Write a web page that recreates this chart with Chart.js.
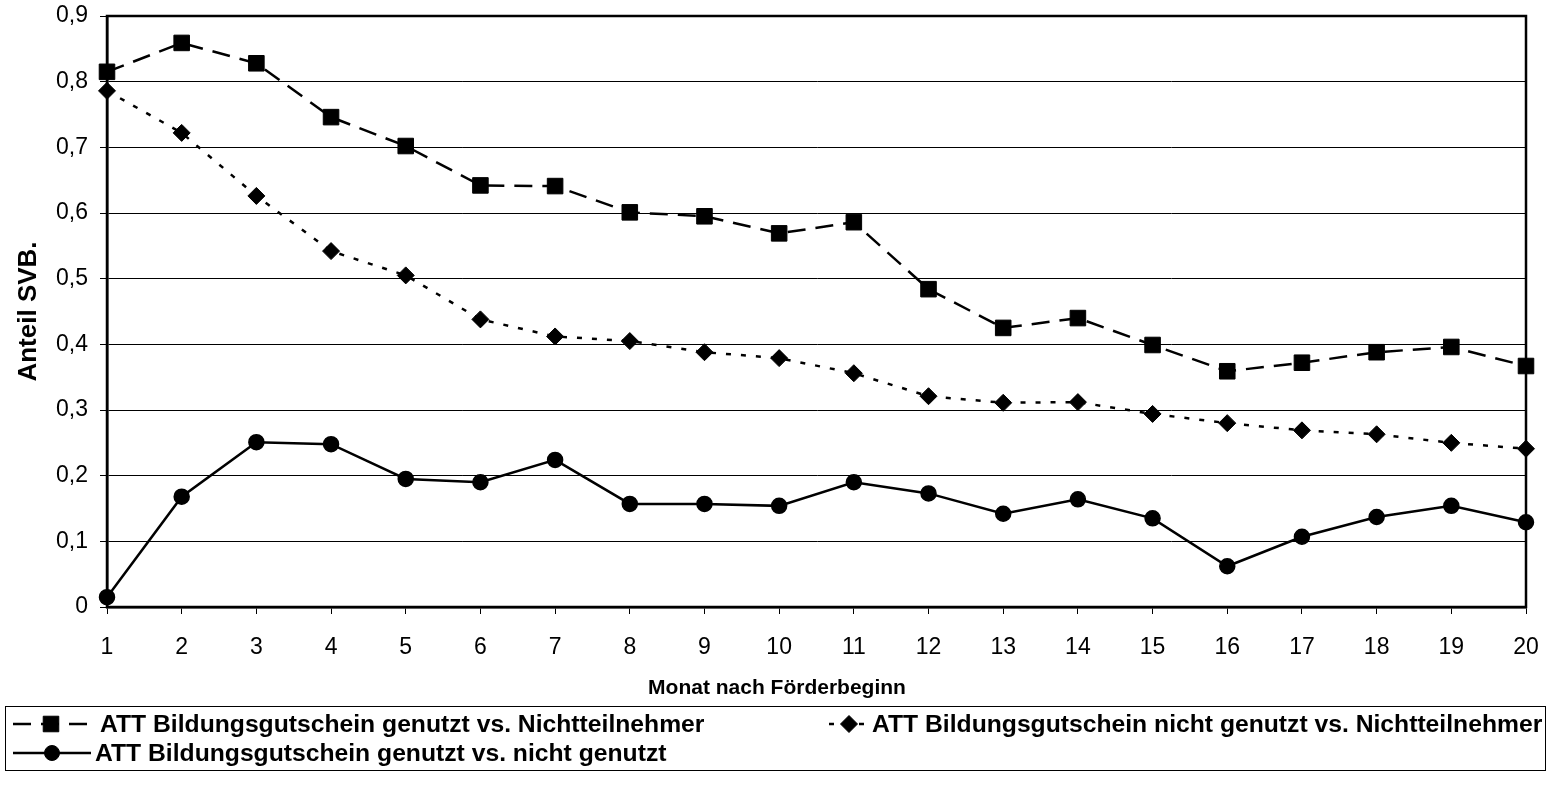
<!DOCTYPE html>
<html>
<head>
<meta charset="utf-8">
<script src="https://cdn.jsdelivr.net/npm/chart.js@4.4.1/dist/chart.umd.min.js"></script>
<style>
  html, body { margin: 0; padding: 0; background: #fff; }
  #contenedor { width: 1549px; height: 801px; position: relative; }
</style>
</head>
<body>
<div id="contenedor"><canvas id="lineChart"></canvas></div>
<script>
// datos
const monate = ['1', '2', '3', '4', '5', '6', '7', '8', '9', '10',
  '11', '12', '13', '14', '15', '16', '17', '18', '19', '20'];
const att_genutzt_nt = [0.815, 0.859, 0.828, 0.746, 0.702, 0.642, 0.641, 0.601, 0.595, 0.569,
  0.586, 0.484, 0.425, 0.440, 0.399, 0.359, 0.372, 0.388, 0.396, 0.367];
const att_nicht_genutzt_nt = [0.786, 0.722, 0.626, 0.542, 0.505, 0.438, 0.412, 0.405, 0.388, 0.379,
  0.356, 0.321, 0.311, 0.312, 0.294, 0.280, 0.269, 0.263, 0.250, 0.241];
const att_genutzt_nicht = [0.015, 0.168, 0.251, 0.248, 0.195, 0.190, 0.224, 0.157, 0.157, 0.154,
  0.190, 0.173, 0.142, 0.164, 0.135, 0.062, 0.107, 0.137, 0.154, 0.129];
const y_ticks = ['0', '0,1', '0,2', '0,3', '0,4', '0,5', '0,6', '0,7', '0,8', '0,9'];
const leyenda_textos = [
  'ATT Bildungsgutschein genutzt vs. Nichtteilnehmer',
  'ATT Bildungsgutschein nicht genutzt vs. Nichtteilnehmer',
  'ATT Bildungsgutschein genutzt vs. nicht genutzt',
];
const titulo_x = 'Monat nach Förderbeginn';

const fuente = "'Liberation Sans', Arial, sans-serif";

// borde del area del grafico
const bordePlugin = {
  id: 'borde',
  beforeDatasetsDraw(chart) {
    const { ctx, chartArea: a } = chart;
    ctx.save();
    ctx.strokeStyle = '#000';
    ctx.lineWidth = 2.5;
    ctx.strokeRect(a.left, a.top, a.right - a.left, a.bottom - a.top);
    ctx.restore();
  },
};

// titulo X + leyenda dibujada a mano (linea + marcador + texto)
const leyendaPlugin = {
  id: 'leyenda',
  afterDraw(chart) {
    const ctx = chart.ctx;
    ctx.save();
    ctx.fillStyle = '#000';
    ctx.font = 'bold 21px ' + fuente;
    ctx.textAlign = 'center';
    ctx.textBaseline = 'middle';
    ctx.fillText(titulo_x, 777, 688);

    ctx.strokeStyle = '#000';
    ctx.lineWidth = 1;
    ctx.strokeRect(5.5, 706.5, 1540, 64);

    const items = [
      { ds: 0, x: 13, y: 724, w: 76, tx: 100 },
      { ds: 1, x: 829, y: 724, w: 40, tx: 872 },
      { ds: 2, x: 13, y: 753, w: 78, tx: 95 },
    ];
    items.forEach(function (it) {
      const ds = chart.data.datasets[it.ds];
      ctx.save();
      ctx.strokeStyle = '#000';
      ctx.lineWidth = 2.5;
      ctx.setLineDash(ds.borderDash || []);
      ctx.beginPath();
      ctx.moveTo(it.x, it.y);
      ctx.lineTo(it.x + it.w, it.y);
      ctx.stroke();
      ctx.restore();
      ctx.fillStyle = '#000';
      ctx.strokeStyle = '#000';
      ctx.lineWidth = 1;
      Chart.helpers.drawPoint(ctx, {
        pointStyle: ds.pointStyle,
        radius: ds.pointRadius,
        rotation: 0,
        borderWidth: 1,
      }, it.x + it.w / 2, it.y);
      ctx.fillStyle = '#000';
      ctx.font = 'bold 24.7px ' + fuente;
      ctx.textBaseline = 'middle';
      ctx.textAlign = 'left';
      ctx.fillText(leyenda_textos[it.ds], it.tx, it.y + 1);
    });
    ctx.restore();
  },
};

window['graficoSVB'] = new Chart(document.getElementById('lineChart').getContext('2d'), {
  type: 'line',
  data: {
    labels: monate,
    datasets: [
      {
        label: leyenda_textos[0],
        data: att_genutzt_nt,
        borderColor: '#000',
        backgroundColor: '#000',
        borderWidth: 2.5,
        borderDash: [18, 10],
        pointStyle: 'rect',
        pointRadius: 11,
        pointBorderWidth: 1,
        pointBackgroundColor: '#000',
        pointBorderColor: '#000',
        tension: 0,
        fill: false,
      },
      {
        label: leyenda_textos[1],
        data: att_nicht_genutzt_nt,
        borderColor: '#000',
        backgroundColor: '#000',
        borderWidth: 2.5,
        borderDash: [5, 10],
        pointStyle: 'rectRot',
        pointRadius: 8.5,
        pointBorderWidth: 1,
        pointBackgroundColor: '#000',
        pointBorderColor: '#000',
        tension: 0,
        fill: false,
      },
      {
        label: leyenda_textos[2],
        data: att_genutzt_nicht,
        borderColor: '#000',
        backgroundColor: '#000',
        borderWidth: 2.5,
        pointStyle: 'circle',
        pointRadius: 7.5,
        pointBorderWidth: 1.5,
        pointBackgroundColor: '#000',
        pointBorderColor: '#000',
        tension: 0,
        fill: false,
      },
    ],
  },
  options: {
    responsive: true,
    maintainAspectRatio: false,
    animation: false,
    layout: { padding: { top: 16, right: 23, bottom: 102, left: 0 } },
    plugins: {
      legend: { display: false },
      tooltip: { enabled: false },
    },
    scales: {
      x: {
        offset: false,
        grid: { display: true, drawOnChartArea: false, drawTicks: true, tickLength: 7, color: '#000', lineWidth: 1 },
        border: { display: true, color: '#000', width: 2.5 },
        ticks: { color: '#000', font: { family: fuente, size: 23 }, padding: 20, autoSkip: false, maxRotation: 0 },
        title: { display: false },
        afterFit: function (scale) {
          scale.height = 92;
          scale.paddingLeft = 0;
          scale.paddingRight = 0;
        },
      },
      y: {
        min: 0,
        max: 0.9,
        grid: { color: '#000', lineWidth: 1, tickLength: 7, drawTicks: true },
        border: { display: true, color: '#000', width: 2.5 },
        ticks: {
          stepSize: 0.1,
          color: '#000',
          font: { family: fuente, size: 23 },
          padding: 12,
          callback: function (v, i) { return y_ticks[i]; },
        },
        title: {
          display: true,
          text: 'Anteil SVB.',
          color: '#000',
          font: { family: fuente, size: 26, weight: 'bold' },
          padding: { top: 13, bottom: 0 },
        },
        afterFit: function (scale) {
          scale.width = 107;
          scale.paddingTop = 0;
          scale.paddingBottom = 0;
        },
      },
    },
  },
  plugins: [bordePlugin, leyendaPlugin],
});
</script>
</body>
</html>
